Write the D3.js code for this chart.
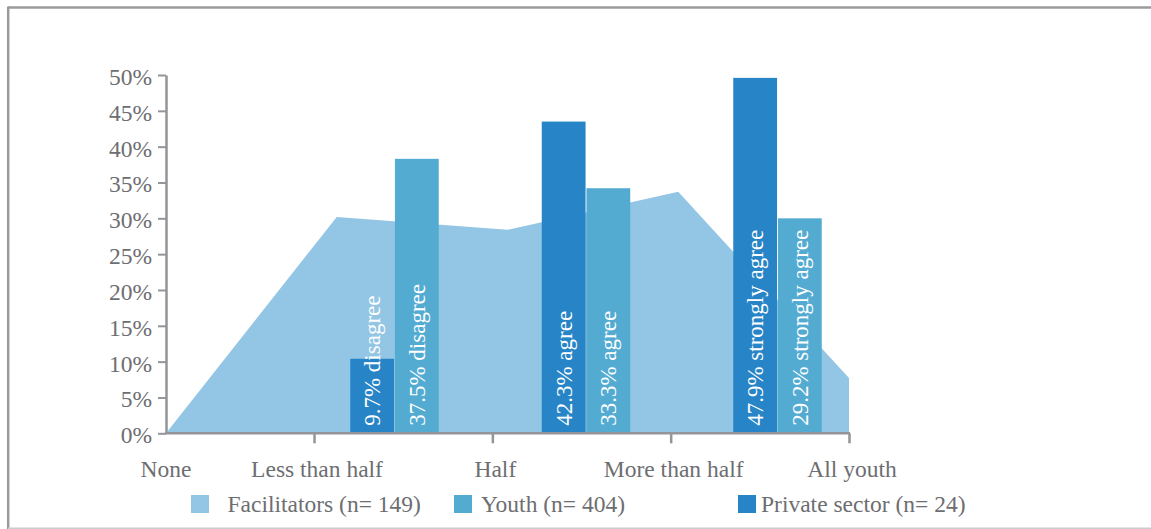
<!DOCTYPE html>
<html>
<head>
<meta charset="utf-8">
<script src="https://cdn.jsdelivr.net/npm/d3@7"></script>
<style>
  html, body { margin: 0; padding: 0; background: #fff; }
  svg { display: block; }
  text { font-family: "Liberation Serif", "DejaVu Serif", serif; }
</style>
</head>
<body>
<svg id="chart" width="1151" height="529"></svg>
<script>
// ---------- data ----------
const xCategories = ["None", "Less than half", "Half", "More than half", "All youth"];
const facilitatorValues = [0, 30.2, 28.4, 33.7, 7.7];

const barGroups = ["disagree", "agree", "strongly agree"];
const barSeries = ["Private sector", "Youth"];
const privateValues = [10.4, 43.5, 49.6];
const youthValues = [38.3, 34.2, 30.0];
const privateLabels = ["9.7% disagree", "42.3% agree", "47.9% strongly agree"];
const youthLabels = ["37.5% disagree", "33.3% agree", "29.2% strongly agree"];

const yTicks = [0, 5, 10, 15, 20, 25, 30, 35, 40, 45, 50];
const legendLabels = ["Facilitators (n= 149)", "Youth (n= 404)", "Private sector (n= 24)"];

// ---------- styles ----------
const colFac = "#93c5e4";
const colYouth = "#53abd2";
const colPriv = "#2784c6";
const axisCol = "#939598";
const textCol = "#6d6e71";
const fontSize = 23.5;

const svg = d3.select("#chart");

// frame
svg.append("line").attr("x1", 8).attr("x2", 1151).attr("y1", 7.5).attr("y2", 7.5)
  .attr("stroke", "#9b9b9b").attr("stroke-width", 2.5);
svg.append("line").attr("x1", 8.2).attr("x2", 8.2).attr("y1", 6.5).attr("y2", 529)
  .attr("stroke", "#9b9b9b").attr("stroke-width", 2.5);
svg.append("line").attr("x1", 8).attr("x2", 1151).attr("y1", 528.3).attr("y2", 528.3)
  .attr("stroke", "#cccccc").attr("stroke-width", 1.5);

// ---------- scales ----------
const y = d3.scaleLinear().domain([0, 50]).range([433.3, 75]);
const xArea = d3.scalePoint().domain(xCategories).range([166, 849]);
const xTick = d3.scaleLinear().domain([0, 4]).range([135.7, 849]);

const xGroup = d3.scaleBand().domain(barGroups).range([298.75, 873.25])
  .paddingInner(0.538).paddingOuter(0.269);
const xSeries = d3.scaleBand().domain(barSeries).range([0, xGroup.bandwidth()])
  .paddingInner(0.02);

// ---------- area (facilitators) ----------
const areaData = xCategories.map((c, i) => ({ c, v: facilitatorValues[i] }));
const area = d3.area().x(d => xArea(d.c)).y0(y(0)).y1(d => y(d.v));
svg.append("path").datum(areaData).attr("d", area).attr("fill", colFac);

// ---------- bars ----------
const barData = [];
barGroups.forEach((g, i) => {
  barData.push({ g, s: "Private sector", v: privateValues[i], label: privateLabels[i], color: colPriv });
  barData.push({ g, s: "Youth", v: youthValues[i], label: youthLabels[i], color: colYouth });
});

const bars = svg.append("g");
bars.selectAll("rect").data(barData).join("rect")
  .attr("x", d => xGroup(d.g) + xSeries(d.s))
  .attr("width", xSeries.bandwidth())
  .attr("y", d => y(d.v))
  .attr("height", d => y(0) - y(d.v))
  .attr("fill", d => d.color);

bars.selectAll("text").data(barData).join("text")
  .attr("transform", d => {
    const cx = xGroup(d.g) + xSeries(d.s) + xSeries.bandwidth() / 2 + 8;
    return `translate(${cx},${y(0) - 7.5}) rotate(-90)`;
  })
  .attr("text-anchor", "start")
  .attr("fill", "#ffffff")
  .attr("font-size", 23)
  .text(d => d.label);

// ---------- y axis ----------
const yAxis = svg.append("g").attr("transform", `translate(${xArea.range()[0]},0)`)
  .call(d3.axisLeft(y).tickValues(yTicks).tickFormat(d => d + "%")
    .tickSize(8).tickSizeOuter(0).tickPadding(6));
yAxis.select(".domain").attr("stroke", axisCol).attr("stroke-width", 2.5);
yAxis.selectAll(".tick line").attr("stroke", axisCol).attr("stroke-width", 2);
yAxis.selectAll(".tick text").attr("fill", textCol).attr("font-size", fontSize)
  .attr("font-family", "Liberation Serif, DejaVu Serif, serif").attr("dy", "0.4em");

// ---------- x axis ----------
const xAxis = svg.append("g").attr("transform", `translate(0,${y(0)})`)
  .call(d3.axisBottom(xTick).tickValues([1, 2, 3, 4]).tickFormat("")
    .tickSize(10).tickSizeOuter(0));
xAxis.select(".domain").remove();
xAxis.selectAll(".tick line").attr("stroke", axisCol).attr("stroke-width", 2.5);
svg.append("line")
  .attr("x1", xArea.range()[0] - 1).attr("x2", xArea.range()[1] + 1)
  .attr("y1", y(0)).attr("y2", y(0))
  .attr("stroke", axisCol).attr("stroke-width", 2.5);

svg.append("g").selectAll("text").data(xCategories).join("text")
  .attr("x", (d, i) => i === 0 ? xArea(d) : xTick(i) + 3)
  .attr("y", y(0) + 43.5)
  .attr("text-anchor", "middle")
  .attr("fill", textCol)
  .attr("font-size", fontSize)
  .text(d => d);

// ---------- legend ----------
const legendColors = [colFac, colYouth, colPriv];
const legendSwatchX = [191, 454, 738];
const legendTextX = [227.5, 481, 761];
const legend = svg.append("g");
legendLabels.forEach((lab, i) => {
  legend.append("rect").attr("x", legendSwatchX[i]).attr("y", 495)
    .attr("width", 18).attr("height", 18).attr("fill", legendColors[i]);
  legend.append("text").attr("x", legendTextX[i]).attr("y", 512)
    .attr("fill", textCol).attr("font-size", fontSize).text(lab);
});
</script>
</body>
</html>
